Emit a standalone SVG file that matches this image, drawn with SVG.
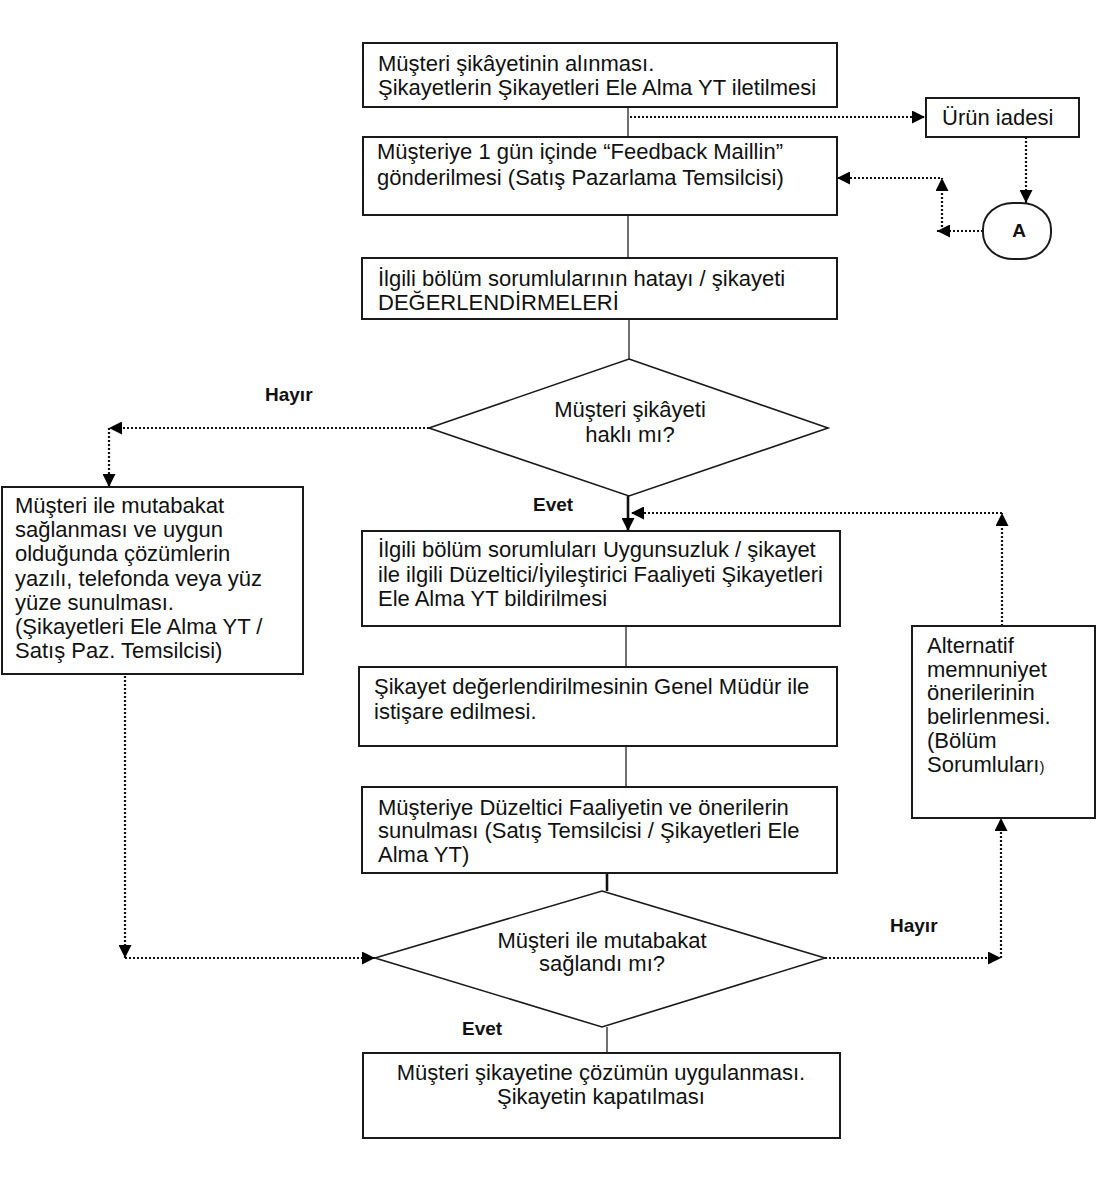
<svg xmlns="http://www.w3.org/2000/svg" width="1112" height="1200" viewBox="0 0 1112 1200">
<style>
  .bg{fill:#fff}
  .box{fill:#fff;stroke:#1a1a1a;stroke-width:2}
  .dia{fill:#fff;stroke:#1a1a1a;stroke-width:1.6}
  .t{font-family:"Liberation Sans",Arial,sans-serif;font-size:22px;fill:#111}
  .c{text-anchor:middle}
  .lbl{font-family:"Liberation Sans",Arial,sans-serif;font-size:19px;font-weight:bold;fill:#111}
  .solid{stroke:#222;stroke-width:1.3;fill:none}
  .thick{stroke:#111;stroke-width:2.6;fill:none}
  .dot{stroke:#111;stroke-width:2.2;stroke-dasharray:2 2;fill:none}
</style>
<defs>
  <marker id="ah" markerUnits="userSpaceOnUse" markerWidth="13" markerHeight="13" viewBox="0 0 13 13" refX="13" refY="6.5" orient="auto">
    <path d="M0,0 L13,6.5 L0,13 Z" fill="#000"/>
  </marker>
</defs>
<rect class="bg" x="0" y="0" width="1112" height="1200"/>

<g id="connectors">
  <line class="solid" x1="628" y1="107" x2="628" y2="137"/>
  <line class="dot" x1="630" y1="117" x2="925" y2="117" marker-end="url(#ah)"/>
  <line class="dot" x1="1026" y1="137" x2="1026" y2="203" marker-end="url(#ah)"/>
  <line class="dot" x1="983" y1="231" x2="937" y2="231" marker-end="url(#ah)"/>
  <line class="dot" x1="942" y1="231" x2="942" y2="178" marker-end="url(#ah)"/>
  <line class="dot" x1="940" y1="178" x2="837" y2="178" marker-end="url(#ah)"/>
  <line class="solid" x1="628" y1="215" x2="628" y2="258"/>
  <line class="solid" x1="629" y1="319" x2="629" y2="359"/>
  <line class="dot" x1="429" y1="428" x2="109" y2="428" marker-end="url(#ah)"/>
  <line class="dot" x1="109" y1="428" x2="109" y2="487" marker-end="url(#ah)"/>
  <line class="thick" x1="628" y1="496" x2="628" y2="531" marker-end="url(#ah)"/>
  <line class="dot" x1="1002" y1="626" x2="1002" y2="513" marker-end="url(#ah)"/>
  <line class="dot" x1="1002" y1="513" x2="631" y2="513" marker-end="url(#ah)"/>
  <line class="solid" x1="626" y1="626" x2="626" y2="667"/>
  <line class="solid" x1="626" y1="746" x2="626" y2="787"/>
  <line class="thick" x1="607" y1="873" x2="607" y2="891"/>
  <line class="dot" x1="125" y1="676" x2="125" y2="958" marker-end="url(#ah)"/>
  <line class="dot" x1="125" y1="958" x2="375" y2="958" marker-end="url(#ah)"/>
  <line class="dot" x1="825" y1="958" x2="1001" y2="958" marker-end="url(#ah)"/>
  <line class="dot" x1="1001" y1="958" x2="1001" y2="818" marker-end="url(#ah)"/>
  <line class="solid" x1="607" y1="1027" x2="607" y2="1053"/>
</g>

<g id="n1">
  <rect class="box" x="363" y="43" width="474" height="64"/>
  <text class="t" x="378" y="71">Müşteri şikâyetinin alınması.</text>
  <text class="t" x="378" y="95">Şikayetlerin Şikayetleri Ele Alma YT iletilmesi</text>
</g>
<g id="n_urun">
  <rect class="box" x="926" y="98" width="153" height="39"/>
  <text class="t" x="942" y="125">Ürün iadesi</text>
</g>
<g id="n2">
  <rect class="box" x="363" y="137" width="474" height="78"/>
  <text class="t" x="377" y="159">Müşteriye 1 gün içinde “Feedback Maillin”</text>
  <text class="t" x="377" y="185">gönderilmesi (Satış Pazarlama Temsilcisi)</text>
</g>
<g id="nA">
  <rect class="box" x="983" y="203" width="68" height="56" rx="30" ry="26"/>
  <text class="lbl c" x="1019" y="237" font-size="20">A</text>
</g>
<g id="n3">
  <rect class="box" x="362" y="258" width="475" height="61"/>
  <text class="t" x="378" y="286">İlgili bölüm sorumlularının hatayı / şikayeti</text>
  <text class="t" x="378" y="310">DEĞERLENDİRMELERİ</text>
</g>
<g id="d1">
  <polygon class="dia" points="629,359 828,428 629,496 429,428"/>
  <text class="t c" x="630" y="417">Müşteri şikâyeti</text>
  <text class="t c" x="630" y="442">haklı mı?</text>
</g>
<g id="labels">
  <text class="lbl" x="265" y="401">Hayır</text>
  <text class="lbl" x="533" y="511">Evet</text>
  <text class="lbl" x="890" y="932">Hayır</text>
  <text class="lbl" x="462" y="1035">Evet</text>
</g>
<g id="n5">
  <rect class="box" x="2" y="487" width="301" height="187"/>
  <text class="t" x="15" y="513">Müşteri ile mutabakat</text>
  <text class="t" x="15" y="537">sağlanması ve uygun</text>
  <text class="t" x="15" y="561">olduğunda çözümlerin</text>
  <text class="t" x="15" y="586">yazılı, telefonda veya yüz</text>
  <text class="t" x="15" y="610">yüze sunulması.</text>
  <text class="t" x="15" y="634">(Şikayetleri Ele Alma YT /</text>
  <text class="t" x="15" y="658">Satış Paz. Temsilcisi)</text>
</g>
<g id="n4">
  <rect class="box" x="362" y="531" width="478" height="95"/>
  <text class="t" x="378" y="557">İlgili bölüm sorumluları Uygunsuzluk / şikayet</text>
  <text class="t" x="378" y="582">ile ilgili Düzeltici/İyileştirici Faaliyeti Şikayetleri</text>
  <text class="t" x="378" y="606">Ele Alma YT bildirilmesi</text>
</g>
<g id="n6">
  <rect class="box" x="359" y="667" width="478" height="79"/>
  <text class="t" x="374" y="694">Şikayet değerlendirilmesinin Genel Müdür ile</text>
  <text class="t" x="374" y="719">istişare edilmesi.</text>
</g>
<g id="n7">
  <rect class="box" x="362" y="787" width="475" height="86"/>
  <text class="t" x="378" y="815">Müşteriye Düzeltici Faaliyetin ve önerilerin</text>
  <text class="t" x="378" y="838">sunulması (Satış Temsilcisi / Şikayetleri Ele</text>
  <text class="t" x="378" y="862">Alma YT)</text>
</g>
<g id="n9">
  <rect class="box" x="912" y="626" width="183" height="192"/>
  <text class="t" x="927" y="653">Alternatif</text>
  <text class="t" x="927" y="677">memnuniyet</text>
  <text class="t" x="927" y="700">önerilerinin</text>
  <text class="t" x="927" y="724">belirlenmesi.</text>
  <text class="t" x="927" y="748">(Bölüm</text>
  <text class="t" x="927" y="772">Sorumluları<tspan font-size="15">)</tspan></text>
</g>
<g id="d2">
  <polygon class="dia" points="602,891 825,958 602,1027 375,958"/>
  <text class="t c" x="602" y="948">Müşteri ile mutabakat</text>
  <text class="t c" x="602" y="971">sağlandı mı?</text>
</g>
<g id="n8">
  <rect class="box" x="363" y="1053" width="477" height="85"/>
  <text class="t c" x="601" y="1080">Müşteri şikayetine çözümün uygulanması.</text>
  <text class="t c" x="601" y="1104">Şikayetin kapatılması</text>
</g>
</svg>
